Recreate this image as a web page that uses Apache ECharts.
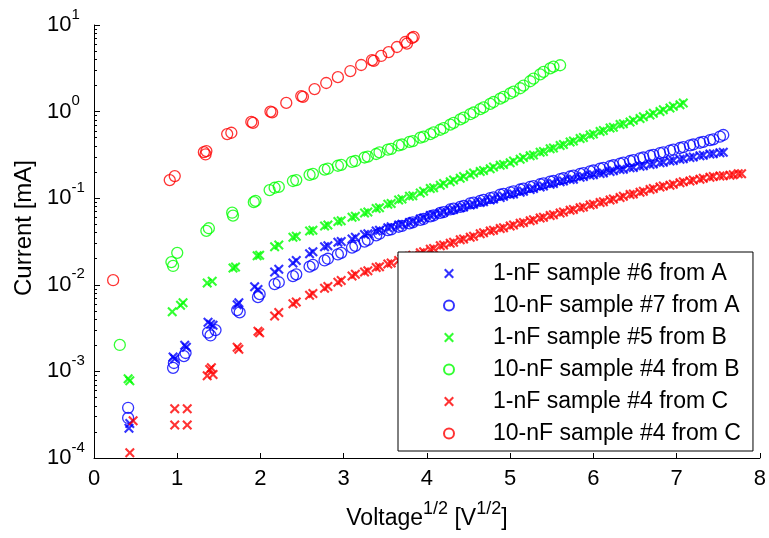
<!DOCTYPE html>
<html>
<head>
<meta charset="utf-8">
<script src="https://cdn.jsdelivr.net/npm/echarts@6/dist/echarts.min.js"></script>
<style>
  html, body { margin: 0; padding: 0; background: #ffffff; }
  #chart { width: 769px; height: 538px; }
</style>
</head>
<body>
<div id="chart"></div>
<script>
// Square root of the applied voltage for the dense part of each sweep [V^1/2]
const sqrtV = [
  2.17, 2.22, 2.39, 2.43, 2.59, 2.63, 2.77, 2.81, 2.93, 2.97,
  3.10, 3.14, 3.25, 3.29, 3.39, 3.43, 3.53, 3.57, 3.66, 3.70,
  3.79, 3.83, 3.92, 3.96, 4.04, 4.08, 4.16, 4.20, 4.28, 4.32,
  4.40, 4.44, 4.52, 4.56, 4.64, 4.68, 4.76, 4.80, 4.88, 4.92,
  5.00, 5.04, 5.12, 5.16, 5.24, 5.28, 5.36, 5.40, 5.48, 5.52,
  5.60, 5.64, 5.72, 5.76, 5.84, 5.88, 5.96, 6.00, 6.08, 6.12,
  6.20, 6.24, 6.32, 6.36, 6.44, 6.48, 6.56, 6.60, 6.68, 6.72,
  6.80, 6.84, 6.92, 6.96, 7.04, 7.08, 7.16, 7.20, 7.28, 7.32,
  7.40, 7.44, 7.52, 7.56, 7.64, 7.68, 7.74, 7.78
];

// Currents [mA] on the sqrtV grid
const currentA1nF = [
  0.0141, 0.0151, 0.0178, 0.0191, 0.0229, 0.0240, 0.0275, 0.0282, 0.0309, 0.0316,
  0.0339, 0.0355, 0.0380, 0.0389, 0.0417, 0.0427, 0.0457, 0.0468, 0.0490, 0.0500,
  0.0525, 0.0537, 0.0575, 0.0589, 0.0630, 0.0646, 0.0676, 0.0692, 0.0724, 0.0741,
  0.0776, 0.0794, 0.0832, 0.0851, 0.0891, 0.0912, 0.0955, 0.0977, 0.102, 0.105,
  0.110, 0.112, 0.117, 0.120, 0.126, 0.129, 0.135, 0.138, 0.145, 0.148,
  0.155, 0.158, 0.164, 0.166, 0.174, 0.178, 0.184, 0.186, 0.193, 0.195,
  0.204, 0.207, 0.214, 0.216, 0.224, 0.226, 0.234, 0.237, 0.245, 0.248,
  0.257, 0.260, 0.269, 0.272, 0.282, 0.285, 0.295, 0.299, 0.309, 0.313,
  0.324, 0.327, 0.335, 0.339
];
const currentA10nF = [
  0.0102, 0.0107, 0.0126, 0.0132, 0.0162, 0.0170, 0.0191, 0.0200, 0.0224, 0.0234,
  0.0269, 0.0282, 0.0316, 0.0331, 0.0372, 0.0389, 0.0427, 0.0437, 0.0468, 0.0479,
  0.0513, 0.0525, 0.0562, 0.0575, 0.0617, 0.0631, 0.0676, 0.0692, 0.0741, 0.0759,
  0.0794, 0.0813, 0.0871, 0.0891, 0.0933, 0.0955, 0.100, 0.102, 0.110, 0.112,
  0.117, 0.120, 0.126, 0.129, 0.135, 0.138, 0.145, 0.148, 0.155, 0.158,
  0.166, 0.170, 0.178, 0.182, 0.191, 0.195, 0.204, 0.209, 0.219, 0.224,
  0.234, 0.240, 0.251, 0.257, 0.269, 0.275, 0.288, 0.295, 0.309, 0.316,
  0.331, 0.339, 0.355, 0.363, 0.380, 0.389, 0.407, 0.417, 0.437, 0.447,
  0.468, 0.479, 0.513, 0.537
];
const currentB1nF = [
  0.0275, 0.0288, 0.0355, 0.0363, 0.0417, 0.0427, 0.0479, 0.0490, 0.0537, 0.0550,
  0.0603, 0.0617, 0.0676, 0.0692, 0.0759, 0.0776, 0.0851, 0.0871, 0.0955, 0.0977,
  0.105, 0.107, 0.115, 0.120, 0.129, 0.132, 0.141, 0.148, 0.155, 0.162,
  0.170, 0.178, 0.186, 0.195, 0.204, 0.209, 0.219, 0.229, 0.240, 0.245,
  0.257, 0.269, 0.282, 0.295, 0.309, 0.316, 0.339, 0.347, 0.372, 0.380,
  0.407, 0.417, 0.447, 0.457, 0.490, 0.501, 0.537, 0.550, 0.589, 0.603,
  0.646, 0.661, 0.708, 0.724, 0.759, 0.794, 0.832, 0.871, 0.912, 0.955,
  1.00, 1.05, 1.10, 1.15, 1.20, 1.26
];
const currentB10nF = [
  0.132, 0.135, 0.158, 0.162, 0.186, 0.191, 0.214, 0.219, 0.237, 0.243,
  0.263, 0.269, 0.295, 0.302, 0.324, 0.339, 0.363, 0.372, 0.407, 0.417,
  0.447, 0.457, 0.501, 0.513, 0.550, 0.575, 0.617, 0.646, 0.708, 0.741,
  0.813, 0.851, 0.933, 0.977, 1.07, 1.12, 1.23, 1.29, 1.41, 1.48,
  1.62, 1.70, 1.86, 2.00, 2.24, 2.40, 2.69, 2.88, 3.16, 3.31,
  3.43
];
const currentC1nF = [
  0.00437, 0.00479, 0.00603, 0.00631, 0.00759, 0.00794, 0.00912, 0.00955, 0.0107, 0.0112,
  0.0126, 0.0132, 0.0141, 0.0145, 0.0158, 0.0162, 0.0174, 0.0178, 0.0191, 0.0200,
  0.0214, 0.0219, 0.0234, 0.0240, 0.0257, 0.0263, 0.0282, 0.0288, 0.0302, 0.0309,
  0.0331, 0.0339, 0.0355, 0.0363, 0.0389, 0.0398, 0.0417, 0.0427, 0.0447, 0.0457,
  0.0479, 0.0490, 0.0513, 0.0525, 0.0550, 0.0562, 0.0589, 0.0603, 0.0631, 0.0646,
  0.0676, 0.0692, 0.0724, 0.0741, 0.0776, 0.0794, 0.0832, 0.0851, 0.0891, 0.0912,
  0.0955, 0.0977, 0.102, 0.105, 0.110, 0.112, 0.117, 0.120, 0.126, 0.129,
  0.135, 0.138, 0.141, 0.145, 0.151, 0.155, 0.158, 0.162, 0.166, 0.170,
  0.174, 0.178, 0.180, 0.182, 0.184, 0.186, 0.191, 0.191
];

// Low-voltage points, [sqrt(V), I (mA)]
const lowA1nF = [[0.42, 0.00022], [0.43, 0.00025], [0.95, 0.00147], [0.97, 0.0014], [1.09, 0.0020], [1.11, 0.0019],
  [1.37, 0.0037], [1.40, 0.0035], [1.43, 0.0034], [1.72, 0.0059], [1.74, 0.0062], [1.93, 0.0095], [1.97, 0.0088]];
const lowA10nF = [[0.41, 0.00038], [0.41, 0.00029], [0.95, 0.0011], [0.96, 0.00125], [1.08, 0.0015], [1.10, 0.00163],
  [1.37, 0.0028], [1.40, 0.0026], [1.46, 0.0030], [1.72, 0.0051], [1.75, 0.0048], [1.97, 0.0072], [1.99, 0.0078]];
const lowB1nF = [[0.41, 0.00082], [0.43, 0.00078], [0.94, 0.0049], [1.04, 0.0058], [1.07, 0.0062], [1.36, 0.0105],
  [1.42, 0.0110], [1.67, 0.0156], [1.70, 0.0160], [1.96, 0.0216], [1.99, 0.0220]];
const lowB10nF = [[0.31, 0.00202], [0.93, 0.0183], [0.95, 0.0165], [1.00, 0.0234], [1.35, 0.042], [1.38, 0.045],
  [1.66, 0.068], [1.67, 0.063], [1.92, 0.090], [1.94, 0.093], [2.11, 0.124]];
const lowC1nF = [[0.43, 0.000115], [0.47, 0.00027], [0.97, 0.00037], [1.12, 0.00037], [0.97, 0.00024], [1.12, 0.00024],
  [1.36, 0.00089], [1.39, 0.00105], [1.41, 0.0011], [1.43, 0.00092], [1.72, 0.0019], [1.74, 0.0018], [1.97, 0.0029], [1.99, 0.0028]];
// 10-nF sample #4 from C, whole sweep
const sweepC10nF = [[0.23, 0.0113], [0.91, 0.162], [0.97, 0.180], [1.32, 0.340], [1.34, 0.320], [1.35, 0.350],
  [1.60, 0.550], [1.65, 0.570], [1.89, 0.760], [1.91, 0.740], [2.12, 1.00], [2.14, 0.98], [2.31, 1.26],
  [2.49, 1.51], [2.51, 1.48], [2.65, 1.82], [2.79, 2.14], [2.93, 2.50], [3.08, 2.94], [3.21, 3.45],
  [3.34, 3.94], [3.36, 3.85], [3.45, 4.39], [3.54, 4.87], [3.64, 5.57], [3.74, 6.36], [3.76, 6.10],
  [3.82, 7.08], [3.84, 7.30]];

const seriesNames = [
  '1-nF sample #6 from A', '10-nF sample #7 from A',
  '1-nF sample #5 from B', '10-nF sample #4 from B',
  '1-nF sample #4 from C', '10-nF sample #4 from C'
];
const xTicks = [0, 1, 2, 3, 4, 5, 6, 7, 8];
const yDecades = [1e-4, 1e-3, 1e-2, 1e-1, 1, 10];
const minorSteps = [2, 3, 4, 5, 6, 7, 8, 9];

const FONT = '"Liberation Sans", Arial, Helvetica, sans-serif';
const CROSS = 'path://M0,1.5L1.5,0L5,3.5L8.5,0L10,1.5L6.5,5L10,8.5L8.5,10L5,6.5L1.5,10L0,8.5L3.5,5Z';

function onGrid(values) {
  return values.map((v, i) => [sqrtV[i], v]);
}

const minorTickValues = [];
yDecades.slice(0, -1).forEach(d => minorSteps.forEach(s => minorTickValues.push(d * s)));

function crossSeries(name, color, data) {
  return {
    name, type: 'scatter', data,
    symbol: CROSS, symbolSize: 10,
    itemStyle: { color: color },
    emphasis: { disabled: true }
  };
}
function circleSeries(name, color, data) {
  return {
    name, type: 'scatter', data,
    symbol: 'circle', symbolSize: 11,
    itemStyle: { color: 'rgba(0,0,0,0)', borderColor: color, borderWidth: 1.3 },
    emphasis: { disabled: true }
  };
}

const chart = echarts.init(document.getElementById('chart'), null, { renderer: 'canvas' });

chart.setOption({
  animation: false,
  backgroundColor: '#ffffff',
  textStyle: { fontFamily: FONT },
  grid: { left: 94, right: 6, top: 25, bottom: 80 },
  xAxis: {
    type: 'value', min: xTicks[0], max: xTicks[xTicks.length - 1], interval: 1,
    axisLine: { lineStyle: { color: '#000', width: 1 } },
    axisTick: { inside: true, length: 5, lineStyle: { color: '#000' } },
    axisLabel: { color: '#000', fontSize: 22, fontFamily: FONT, margin: 10 },
    splitLine: { show: false },
    name: '{t|Voltage}{s|1/2}{t| [V}{s|1/2}{t|]}',
    nameLocation: 'middle', nameGap: 42,
    nameTextStyle: {
      rich: {
        t: { fontSize: 23, fontFamily: FONT, color: '#000', lineHeight: 38 },
        s: { fontSize: 18, fontFamily: FONT, color: '#000', lineHeight: 18, verticalAlign: 'top' }
      }
    }
  },
  yAxis: [
    {
      type: 'log', logBase: 10, min: yDecades[0], max: yDecades[yDecades.length - 1],
      axisLine: { show: true, lineStyle: { color: '#000', width: 1 } },
      axisTick: { inside: true, length: 6, lineStyle: { color: '#000' } },
      axisLabel: {
        align: 'left', margin: 47,
        formatter: v => '{b|10}{e|' + Math.round(Math.log10(v)) + '}',
        rich: {
          b: { fontSize: 22, fontFamily: FONT, color: '#000', lineHeight: 36 },
          e: { fontSize: 15, fontFamily: FONT, color: '#000', lineHeight: 15, verticalAlign: 'top' }
        }
      },
      splitLine: { show: false },
      name: 'Current [mA]', nameLocation: 'middle', nameGap: 58, nameRotate: 90,
      nameTextStyle: { fontSize: 24, fontFamily: FONT, color: '#000', padding: [0, 0, 0, 27] }
    },
    {
      type: 'log', logBase: 10, min: yDecades[0], max: yDecades[yDecades.length - 1], position: 'left',
      axisLine: { show: false },
      axisTick: { inside: true, length: 3, customValues: minorTickValues, lineStyle: { color: '#000' } },
      axisLabel: { show: false },
      splitLine: { show: false }
    }
  ],
  legend: {
    orient: 'vertical', left: 398, top: 252,
    backgroundColor: '#ffffff', borderColor: '#000', borderWidth: 1, borderRadius: 0,
    padding: [10, 12, 6, 45], itemGap: 9, itemWidth: 78, itemHeight: 10,
    textStyle: { fontSize: 23, lineHeight: 22, color: '#000', fontFamily: FONT },
    data: seriesNames
  },
  series: [
    crossSeries(seriesNames[0], '#0000ff', lowA1nF.concat(onGrid(currentA1nF))),
    circleSeries(seriesNames[1], '#0000ff', lowA10nF.concat(onGrid(currentA10nF))),
    crossSeries(seriesNames[2], '#00ff00', lowB1nF.concat(onGrid(currentB1nF))),
    circleSeries(seriesNames[3], '#00ff00', lowB10nF.concat(onGrid(currentB10nF))),
    crossSeries(seriesNames[4], '#ff0000', lowC1nF.concat(onGrid(currentC1nF))),
    circleSeries(seriesNames[5], '#ff0000', sweepC10nF)
  ]
});
</script>
</body>
</html>
